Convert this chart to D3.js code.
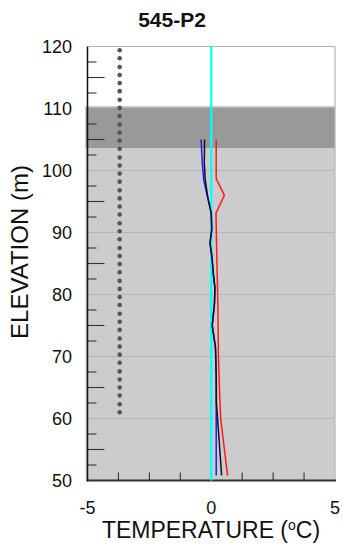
<!DOCTYPE html>
<html><head><meta charset="utf-8">
<script src="https://cdn.jsdelivr.net/npm/d3@7"></script>
<style>html,body{margin:0;padding:0;background:#fff;}svg{display:block;font-family:"Liberation Sans",Arial,sans-serif;}</style>
</head><body>
<svg id="c" width="343" height="545"></svg>
<script>
// ---- data ----
const title = "545-P2";
const yTickLabels = [50, 60, 70, 80, 90, 100, 110, 120];
const xTickLabels = [-5, 0, 5];
const bandTop = 110.3, bandBottom = 103.6;          // dark band (elevations)
const zeroLine = 0;                                   // cyan 0 °C line
const dotTemp = -3.7;
const dotElev = [61.0,62.3,63.7,65.0,66.3,67.6,69.0,70.3,71.6,72.9,74.3,75.6,76.9,78.3,79.6,80.9,82.2,83.6,84.9,86.2,87.5,88.9,90.2,91.5,92.9,94.2,95.5,96.8,98.2,99.5,100.8,102.1,103.5,104.8,106.1,107.4,108.8,110.1,111.4,112.8,114.1,115.4,116.7,118.1,119.4];
const redElev  = [105.0, 98.7, 96.0, 93.1, 85.0, 78.0, 70.0, 65.0, 60.0, 50.8];
const redTemp  = [0.20, 0.20, 0.53, 0.19, 0.23, 0.27, 0.29, 0.33, 0.38, 0.66];
const blackElev = [105.0,101.1,98.4,95.7,93.1,90.5,88.3,86.0,83.5,81.0,78.5,75.0,71.5,67.0,62.5,50.8];
const blackTemp = [-0.27,-0.28,-0.24,-0.14,0.00,0.02,-0.05,0.03,0.08,0.15,0.13,0.04,0.17,0.20,0.21,0.42];
const blueElev  = [105.0,101.1,98.4,95.7,93.1,90.5,88.3,86.0,83.5,81.0,78.5,75.0,71.5,67.0,62.5,50.8];
const blueTemp  = [-0.41,-0.36,-0.30,-0.15,0.00,0.02,-0.05,0.03,0.08,0.15,0.13,0.04,0.17,0.20,0.20,0.20];

// ---- layout ----
const svg = d3.select("#c");
const L = 87.5, R = 335, T = 46.5, B = 480.5;
const x = d3.scaleLinear().domain([-5, 5]).range([L, R]);
const y = d3.scaleLinear().domain([50, 120]).range([B, T]);

// backgrounds
svg.append("rect").attr("x", L - 2).attr("y", y(bandBottom)).attr("width", R - L + 2).attr("height", y(50) - y(bandBottom)).attr("fill", "#cccccc");
svg.append("rect").attr("x", L - 2).attr("y", y(bandTop)).attr("width", R - L + 2).attr("height", y(bandBottom) - y(bandTop)).attr("fill", "#999999");
svg.append("line").attr("x1", L - 2).attr("x2", R).attr("y1", y(bandTop) + 0.5).attr("y2", y(bandTop) + 0.5).attr("stroke", "#b8b8b8").attr("stroke-width", 1.5);

// gridlines at 10 m
svg.selectAll(".grid").data([60, 70, 80, 90, 100]).enter().append("line")
  .attr("x1", L).attr("x2", R).attr("y1", d => y(d)).attr("y2", d => y(d))
  .attr("stroke", "#b6b6b6").attr("stroke-width", 1);

// frame top/right
svg.append("line").attr("x1", L).attr("x2", R).attr("y1", T).attr("y2", T).attr("stroke", "#b4b4b4").attr("stroke-width", 1.2);
svg.append("line").attr("x1", R).attr("x2", R).attr("y1", T).attr("y2", B).attr("stroke", "#b4b4b4").attr("stroke-width", 1.2);

// y ticks (inside)
const yTicks = d3.range(52.5, 120, 2.5);
svg.selectAll(".yt").data(yTicks.filter(d => d % 10 !== 0)).enter().append("line")
  .attr("x1", L).attr("x2", d => L + (d % 5 === 0 ? 17 : 9))
  .attr("y1", d => y(d)).attr("y2", d => y(d))
  .attr("stroke", "#333").attr("stroke-width", 1.1);

// x ticks (inside, up)
const xTicks = d3.range(-3.75, 5, 1.25);
svg.selectAll(".xt").data(xTicks).enter().append("line")
  .attr("x1", d => x(d)).attr("x2", d => x(d)).attr("y1", B).attr("y2", B - 8)
  .attr("stroke", "#333").attr("stroke-width", 1.1);

// axes lines
svg.append("line").attr("x1", L).attr("x2", L).attr("y1", T).attr("y2", B + 1).attr("stroke", "#111").attr("stroke-width", 1.5);
svg.append("line").attr("x1", L - 1).attr("x2", R + 1).attr("y1", B).attr("y2", B).attr("stroke", "#333").attr("stroke-width", 2);

// dots
svg.selectAll(".dot").data(dotElev).enter().append("circle")
  .attr("cx", x(dotTemp)).attr("cy", d => y(d)).attr("r", 2.3).attr("fill", "#555");

// cyan zero line
svg.append("line").attr("x1", x(zeroLine)).attr("x2", x(zeroLine)).attr("y1", T).attr("y2", B)
  .attr("stroke", "#00ffff").attr("stroke-width", 2.2);

// profiles
const line = d3.line().x(d => x(d[0])).y(d => y(d[1]));
function prof(temps, elevs, color) {
  svg.append("path").datum(temps.map((t, i) => [t, elevs[i]]))
    .attr("d", line).attr("fill", "none").attr("stroke", color).attr("stroke-width", 1.5);
}
prof(blueTemp, blueElev, "#1a1aff");
prof(blackTemp, blackElev, "#111122");
prof(redTemp, redElev, "#ff1a1a");

// tick labels
svg.selectAll(".yl").data(yTickLabels).enter().append("text")
  .attr("x", 72).attr("y", d => y(d)).attr("dy", "0.36em").attr("text-anchor", "end")
  .attr("font-size", 18).attr("fill", "#111").text(d => d);
svg.selectAll(".xl").data(xTickLabels).enter().append("text")
  .attr("x", d => x(d)).attr("y", 514).attr("text-anchor", "middle")
  .attr("font-size", 18).attr("fill", "#111").text(d => d);

// titles
svg.append("text").attr("x", 172).attr("y", 27).attr("text-anchor", "middle")
  .attr("font-size", 21).attr("font-weight", "bold").attr("fill", "#111").text(title);
const xl = svg.append("text").attr("x", 211).attr("y", 538).attr("text-anchor", "middle")
  .attr("font-size", 23).attr("fill", "#111");
xl.append("tspan").text("TEMPERATURE (");
xl.append("tspan").attr("font-size", 14).attr("dy", -8).text("o");
xl.append("tspan").attr("dy", 8).text("C)");
svg.append("text").attr("transform", "translate(28,252) rotate(-90)").attr("text-anchor", "middle")
  .attr("font-size", 24).attr("fill", "#111").text("ELEVATION (m)");
</script>
</body></html>
